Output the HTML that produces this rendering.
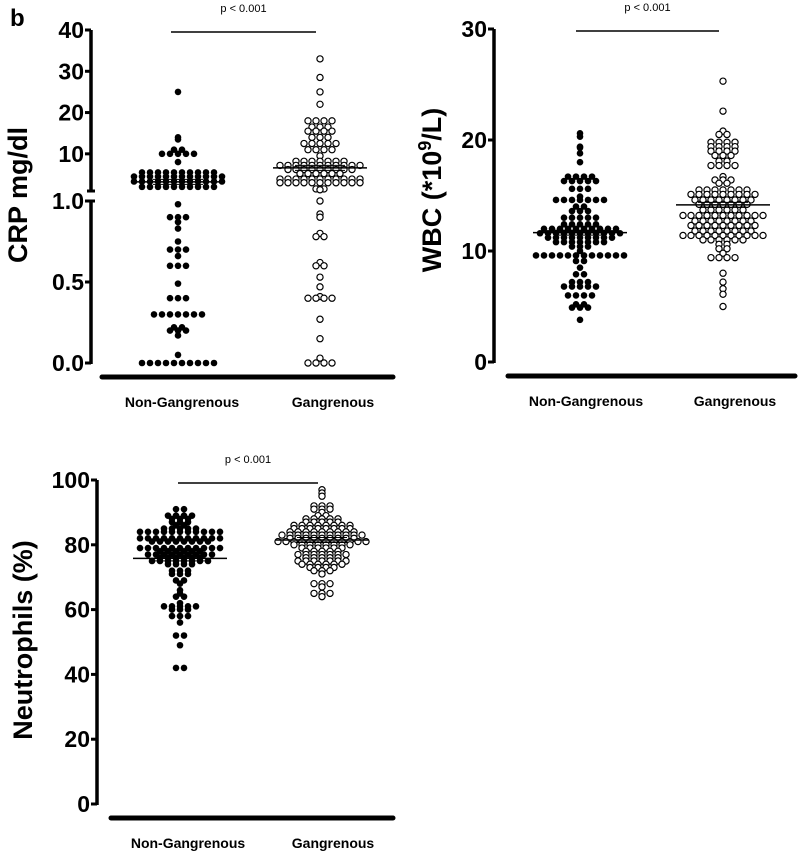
<!DOCTYPE html>
<html><head><meta charset="utf-8"><style>
html,body{margin:0;padding:0;background:#fff;}
svg{display:block;font-family:"Liberation Sans",Arial,sans-serif;}
</style></head><body>
<svg id="fig" width="798" height="851" viewBox="0 0 798 851" xmlns="http://www.w3.org/2000/svg">
<text x="10" y="26" font-size="24" font-weight="bold">b</text>
</svg>
<script>
// ---- data ----
const categories = ["Non-Gangrenous", "Gangrenous"];
function rep(v, n){ const a=[]; for(let i=0;i<n;i++) a.push(v); return a; }
const crpNon = [25,14,13.5,11,11,10,10,10,10,10,8].concat(rep(5.5,10),rep(4.5,12),rep(3.3,12),rep(2.0,10),
  [0.98,0.9,0.9,0.9,0.87,0.83,0.75,0.7,0.7,0.7,0.66,0.6,0.6,0.6,0.49,0.4,0.4,0.4],rep(0.3,7),[0.22,0.22,0.2,0.2,0.2,0.17,0.05],rep(0,10));
const crpGan = [33,28.5,25,22,18,18,18,18,16.5,16.5,16.5,15.5,15.5,15.5,15.5,14,14,14,12.5,12.5,12.5,12.5,12.5,11,11,11,11,9.5]
  .concat(rep(8.2,7),rep(7.2,11),rep(6.2,9),rep(5.2,6),rep(3.9,11),rep(3.0,11),[1.5,1.3,1.5],
  [1.0,0.92,0.9,0.8,0.78,0.78,0.62,0.6,0.6,0.53,0.47,0.41,0.4,0.4,0.4,0.4,0.27,0.15,0.03,0,0,0,0]);
const wbcNon = [20.6,20.3,19.4,19.3,18.8,18].concat(rep(16.7,4),rep(16.3,5),rep(15.6,3),[14.9],rep(14.6,7),[14.0,14.0],
  rep(13.6,3),rep(13.0,5),rep(12.4,5),rep(12.0,10),rep(11.6,11),rep(11.2,9),rep(10.8,7),rep(10.4,3),
  [10.0],rep(9.6,12),[9.1,9.1,8.5,7.9,7.9],rep(7.2,3),rep(6.8,5),rep(6.0,4),[5.2,5.2,4.9,4.9,4.9,3.8]);
const wbcGan = [25.3,22.6,20.8,20.5,20.5].concat(rep(19.8,4),rep(19.4,4),rep(19.0,4),rep(18.6,3),rep(18.1,2),rep(17.7,4),[16.7],rep(16.4,3),
  rep(16.1,2),rep(15.5,7),rep(15.1,9),rep(14.6,8),rep(14.2,7),rep(13.7,6),rep(13.2,11),rep(12.7,8),rep(12.3,9),rep(11.8,8),
  rep(11.4,11),rep(11.0,6),[10.6,10.6,10.2,10.2,9.8],rep(9.4,4),[8.0,7.2,6.6,6.1,5.0]);
const neuNon = [91,91].concat(rep(89,4),rep(88,3),rep(87,3),rep(86,2),rep(85,5),rep(84,11),rep(82,11),rep(81,8),rep(79,11),rep(78,6),
  rep(77,9),rep(76,6),rep(75,8),rep(74,4),rep(72,3),rep(71,3),[69,69,68,66,65,64,64,62],rep(61,5),rep(60,3),[58,58,58,56,52,52,49,42,42]);
const neuGan = [97,96,95,92,92,92,91,91,91,90,89,89].concat(rep(88,5),rep(87,5),rep(86,8),rep(85,8),rep(84,9),rep(83,11),rep(82,9),
  rep(81,12),rep(80,8),rep(79,6),rep(78,5),rep(77,7),rep(76,5),rep(75,7),rep(74,6),rep(73,4),rep(72,3),[71],rep(68,3),[67],rep(65,3),[64]);
const crpMeans = [3.2, 6.6];
const wbcMeans = [11.65, 14.15];
const neuMeans = [75.8, 81.5];
const crpUpperTicks = ["10","20","30","40"];
const crpLowerTicks = ["0.0","0.5","1.0"];
const wbcTicks = ["0","10","20","30"];
const neuTicks = ["0","20","40","60","80","100"];
const pLabels = ["p < 0.001","p < 0.001","p < 0.001"];

// ---- drawing ----
const NS="http://www.w3.org/2000/svg";
const svg=document.getElementById('fig');
function el(tag, attrs, parent){ const e=document.createElementNS(NS,tag); for(const k in attrs) e.setAttribute(k,attrs[k]); (parent||svg).appendChild(e); return e; }

function swarm(values, cx, yf, g, filled, nm){
  const groups=new Map();
  values.forEach(v=>{ groups.set(v,(groups.get(v)||0)+1); });
  groups.forEach((n,v)=>{
    const y=yf(v);
    for(let i=0;i<n;i++){
      const x=cx+(i-(n-1)/2)*8;
      const c=el('circle',{cx:x,cy:y,r:filled?3.3:3.1,fill:filled?'#000':'#fff',stroke:'#000','stroke-width':filled?0:1.2},g);
      
      
    }
  });
}
function meanLine(cx,y,g,nm){
  const l=el('line',{x1:cx-47,x2:cx+47,y1:y,y2:y,stroke:'#000','stroke-width':1.5},g);
  
  
  el('line',{x1:cx-25,x2:cx+25,y1:y-2.5,y2:y-2.5,stroke:'#000','stroke-width':1},g);
  el('line',{x1:cx-25,x2:cx+25,y1:y+2.5,y2:y+2.5,stroke:'#000','stroke-width':1},g);
}
function tick(ax,y,label,g){
  el('line',{x1:ax-6,x2:ax,y1:y,y2:y,stroke:'#000','stroke-width':3},g);
  const t=el('text',{x:ax-7,y:y+8,'font-size':23,'font-weight':'bold','text-anchor':'end'},g);
  t.textContent=label;
  
  
}
function frame(g, ax, xl0, xl1, xlY, labXs, labY, pX0, pX1, pY, pText, title, tx, ty){
  el('line',{x1:xl0,x2:xl1,y1:xlY,y2:xlY,stroke:'#000','stroke-width':5,'stroke-linecap':'round'},g);
  labXs.forEach((cx,i)=>{
    const t=el('text',{x:cx,y:labY,'font-size':14,'font-weight':'bold','text-anchor':'middle'},g);
    t.textContent=categories[i];
    
    
  });
  const pl=el('line',{x1:pX0,x2:pX1,y1:pY,y2:pY,stroke:'#000','stroke-width':1.5},g);
  
  
  const pt=el('text',{x:(pX0+pX1)/2,y:pY-20,'font-size':11,'text-anchor':'middle'},g);
  pt.textContent=pText;
  
  
  const tt=el('text',{x:0,y:0,'font-size':27,'font-weight':'bold','text-anchor':'middle',transform:`translate(${tx},${ty}) rotate(-90)`},g);
  tt.innerHTML=title;
  
  
}

// Panel 1: CRP
(function(){
  const g=el('g',{});  
  const ax=91;
  const yf=v=> v<=1 ? 363 - v*162 : 191 - (v-1)*(161/39);
  el('line',{x1:ax,x2:ax,y1:30,y2:191,stroke:'#000','stroke-width':3.5},g);
  el('line',{x1:ax,x2:ax,y1:201,y2:364,stroke:'#000','stroke-width':3.5},g);
  el('line',{x1:ax-4,x2:ax+4,y1:191,y2:191,stroke:'#000','stroke-width':3},g);
  el('line',{x1:ax-4,x2:ax+4,y1:201,y2:201,stroke:'#000','stroke-width':3},g);
  crpUpperTicks.forEach(s=>tick(ax,yf(+s),s,g));
  crpLowerTicks.forEach(s=>tick(ax,yf(+s),s,g));
  const cxs=[178,320];
  frame(g,ax,102,393,377,[182,333],407,171,316,32,pLabels[0],'CRP mg/dl',27,195);
  swarm(crpNon,cxs[0],yf,g,true,'crp-non-gangrenous-point');
  swarm(crpGan,cxs[1],yf,g,false,'crp-gangrenous-point');
  meanLine(cxs[0],yf(crpMeans[0]),g,'crp-non-mean-line');
  meanLine(cxs[1],yf(crpMeans[1]),g,'crp-gan-mean-line');
})();

// Panel 2: WBC
(function(){
  const g=el('g',{});  
  const ax=494;
  const yf=v=>362 - v*11.1;
  el('line',{x1:ax,x2:ax,y1:29,y2:363,stroke:'#000','stroke-width':3.5},g);
  wbcTicks.forEach(s=>tick(ax,yf(+s),s,g));
  const cxs=[580,723];
  frame(g,ax,508,795,376,[586,735],406,576,719,31,pLabels[1],'WBC (*10<tspan dy="-10" font-size="18">9</tspan><tspan dy="10">/L)</tspan>',441,190);
  swarm(wbcNon,cxs[0],yf,g,true,'wbc-non-gangrenous-point');
  swarm(wbcGan,cxs[1],yf,g,false,'wbc-gangrenous-point');
  meanLine(cxs[0],yf(wbcMeans[0]),g,'wbc-non-mean-line');
  meanLine(cxs[1],yf(wbcMeans[1]),g,'wbc-gan-mean-line');
})();

// Panel 3: Neutrophils
(function(){
  const g=el('g',{});  
  const ax=97;
  const yf=v=>804 - v*3.24;
  el('line',{x1:ax,x2:ax,y1:480,y2:805,stroke:'#000','stroke-width':3.5},g);
  neuTicks.forEach(s=>tick(ax,yf(+s),s,g));
  const cxs=[180,322];
  frame(g,ax,111,393,818,[188,333],848,178,318,483,pLabels[2],'Neutrophils (%)',32,640);
  swarm(neuNon,cxs[0],yf,g,true,'neutrophils-non-gangrenous-point');
  swarm(neuGan,cxs[1],yf,g,false,'neutrophils-gangrenous-point');
  meanLine(cxs[0],yf(neuMeans[0]),g,'neutrophils-non-mean-line');
  meanLine(cxs[1],yf(neuMeans[1]),g,'neutrophils-gan-mean-line');
})();
</script>
</body></html>
